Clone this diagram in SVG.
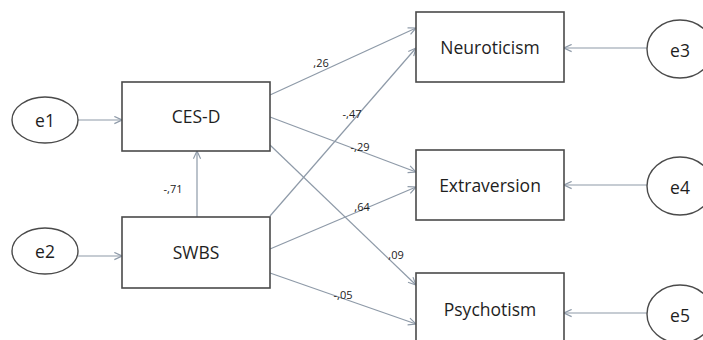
<svg xmlns="http://www.w3.org/2000/svg" width="703" height="340" viewBox="0 0 703 340">
<style>
.box{fill:#fff;stroke:#4a4a4a;stroke-width:1.6}
.ell{fill:#fff;stroke:#4a4a4a;stroke-width:1.4}
.lbl{font-family:"Open Sans","Liberation Sans",sans-serif;font-size:17.5px;fill:#1e1e1e;text-anchor:middle;dominant-baseline:central}
.coef{font-family:"Open Sans","Liberation Sans",sans-serif;font-size:11px;fill:#222;text-anchor:middle;dominant-baseline:central}
.con line{stroke:#8e9aa8;stroke-width:1.2;fill:none;marker-end:url(#arr)}
</style>
<defs>
<marker id="arr" viewBox="0 0 10 10" refX="9.5" refY="5" markerWidth="9" markerHeight="9" markerUnits="userSpaceOnUse" orient="auto">
<path d="M1,1 L9.5,5 L1,9" fill="none" stroke="#8e9aa8" stroke-width="1.3"/>
</marker>
</defs>
<rect width="703" height="340" fill="#fff"/>
<g class="con">
<line x1="78" y1="120" x2="122" y2="120"/>
<line x1="78" y1="256" x2="122" y2="256"/>
<line x1="197" y1="217" x2="197" y2="151"/>
<line x1="270" y1="95" x2="416" y2="28"/>
<line x1="270" y1="117" x2="416" y2="172"/>
<line x1="270" y1="145" x2="416" y2="285"/>
<line x1="270" y1="216" x2="416" y2="48"/>
<line x1="270" y1="249" x2="416" y2="187"/>
<line x1="270" y1="273" x2="416" y2="324"/>
<line x1="647" y1="48" x2="564" y2="48"/>
<line x1="647" y1="185" x2="564" y2="185"/>
<line x1="647" y1="313" x2="564" y2="313"/>
</g>
<g id="coefs">
<text class="coef" x="321" y="62">,26</text>
<text class="coef" x="352" y="113">-,47</text>
<text class="coef" x="360" y="146">-,29</text>
<text class="coef" x="362" y="206">,64</text>
<text class="coef" x="396" y="254">,09</text>
<text class="coef" x="343" y="294">-,05</text>
<text class="coef" x="173" y="188">-,71</text>
</g>
<g id="e1"><ellipse class="ell" cx="45" cy="120" rx="33" ry="23"/><text class="lbl" x="45" y="120">e1</text></g>
<g id="e2"><ellipse class="ell" cx="45" cy="251" rx="33" ry="23"/><text class="lbl" x="45" y="251">e2</text></g>
<g id="cesd"><rect class="box" x="122" y="82" width="148" height="69"/><text class="lbl" x="196" y="116">CES-D</text></g>
<g id="swbs"><rect class="box" x="122" y="217" width="148" height="71"/><text class="lbl" x="196" y="252">SWBS</text></g>
<g id="neuro"><rect class="box" x="416" y="12" width="148" height="70"/><text class="lbl" x="490" y="47">Neuroticism</text></g>
<g id="extra"><rect class="box" x="416" y="150" width="148" height="70"/><text class="lbl" x="490" y="185">Extraversion</text></g>
<g id="psych"><rect class="box" x="416" y="273" width="148" height="72"/><text class="lbl" x="490" y="309">Psychotism</text></g>
<g id="e3"><ellipse class="ell" cx="680" cy="49" rx="33" ry="29"/><text class="lbl" x="680" y="50">e3</text></g>
<g id="e4"><ellipse class="ell" cx="680" cy="186" rx="33" ry="29"/><text class="lbl" x="680" y="187">e4</text></g>
<g id="e5"><ellipse class="ell" cx="680" cy="314" rx="33" ry="29"/><text class="lbl" x="680" y="315">e5</text></g>
</svg>
